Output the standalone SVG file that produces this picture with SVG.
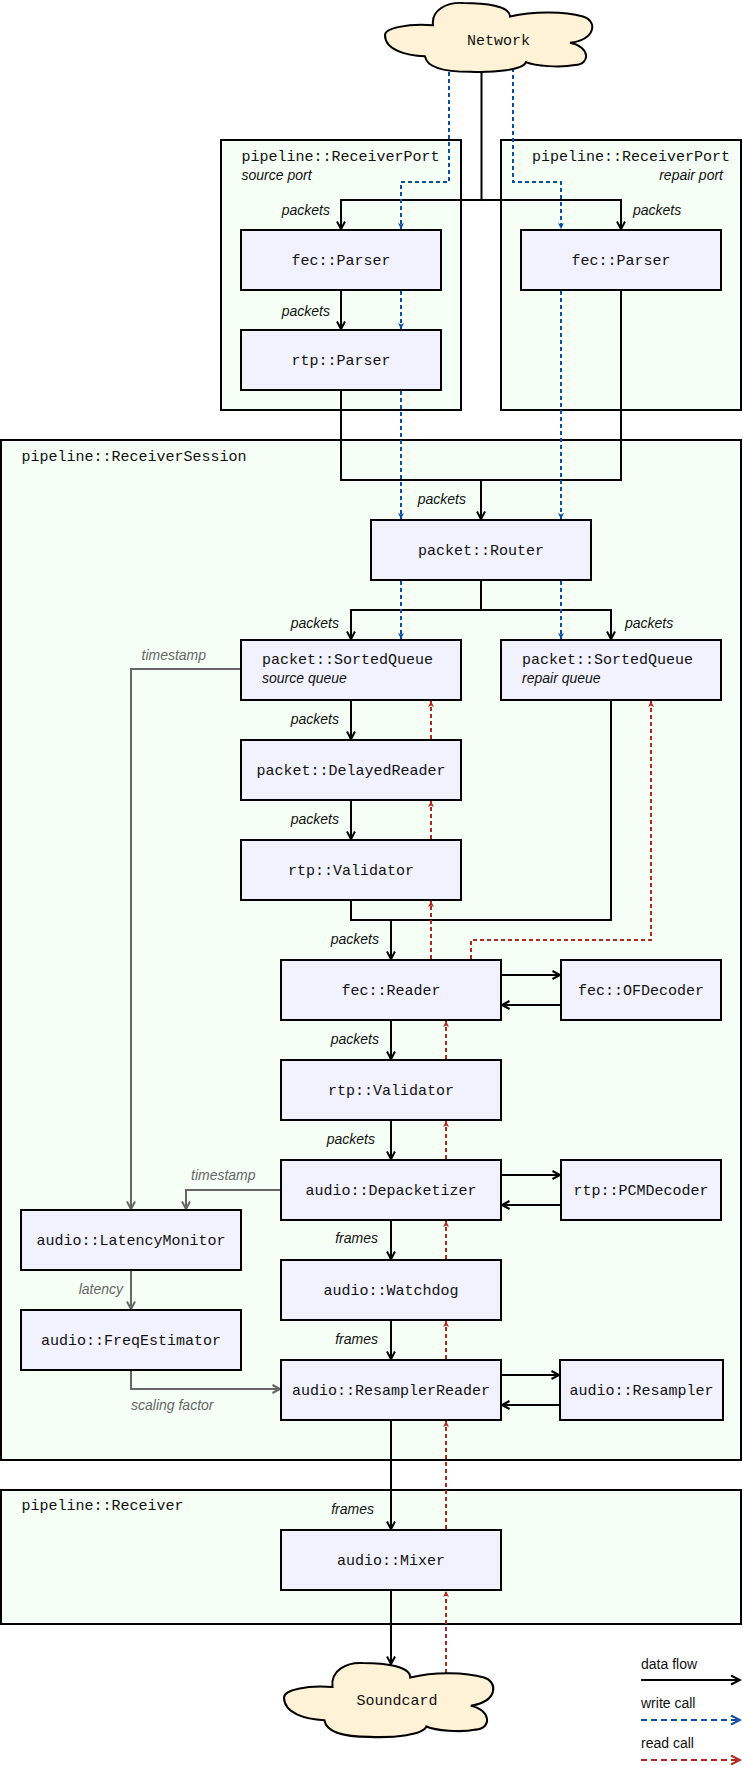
<svg xmlns="http://www.w3.org/2000/svg" xmlns:xlink="http://www.w3.org/1999/xlink" width="743" height="1765" viewBox="0 0 743 1765">
  <style>
    .cont { fill: #f5fff5; stroke: #000; stroke-width: 2; }
    .box { fill: #f2f2ff; stroke: #000; stroke-width: 2; }
    .cloud { fill: #fff2d6; stroke: #000; stroke-width: 2; }
    .mono { font-family: "Liberation Mono", "DejaVu Sans Mono", monospace; font-size: 15px; fill: #111; }
    .lbl { font-family: "Liberation Sans", Arial, sans-serif; font-size: 14px; font-style: italic; fill: #111; }
    .glbl { font-family: "Liberation Sans", Arial, sans-serif; font-size: 14px; font-style: italic; fill: #666; }
    .leg { font-family: "Liberation Sans", Arial, sans-serif; font-size: 14px; fill: #111; }
    .mid { text-anchor: middle; }
    .end { text-anchor: end; }
    .flow { fill: none; stroke: #000; stroke-width: 2; }
    .ctl { fill: none; stroke: #666; stroke-width: 2; }
    .write { fill: none; stroke: #0b4ea2; stroke-width: 2; stroke-dasharray: 4 3; }
    .read { fill: none; stroke: #b3261e; stroke-width: 2; stroke-dasharray: 4 3; }
    .legw { fill: none; stroke: #0b4ea2; stroke-width: 2; stroke-dasharray: 6 4; }
    .legr { fill: none; stroke: #b3261e; stroke-width: 2; stroke-dasharray: 6 4; }
  </style>
  <defs>
    <marker id="aFlow" markerUnits="userSpaceOnUse" markerWidth="12" markerHeight="12" refX="8" refY="5" orient="auto">
      <path d="M0.5,1 L8,5 L0.5,9" fill="none" stroke="#000" stroke-width="2"/>
    </marker>
    <marker id="aCtl" markerUnits="userSpaceOnUse" markerWidth="12" markerHeight="12" refX="8" refY="5" orient="auto">
      <path d="M0.5,1 L8,5 L0.5,9" fill="none" stroke="#666" stroke-width="2"/>
    </marker>
    <marker id="aWrite" markerUnits="userSpaceOnUse" markerWidth="8" markerHeight="8" refX="6" refY="3" orient="auto">
      <path d="M0,0 L6,3 L0,6 L1.5,3 Z" fill="#0b4ea2"/>
    </marker>
    <marker id="aRead" markerUnits="userSpaceOnUse" markerWidth="8" markerHeight="8" refX="6" refY="3" orient="auto">
      <path d="M0,0 L6,3 L0,6 L1.5,3 Z" fill="#b3261e"/>
    </marker>
    <marker id="lFlow" markerUnits="userSpaceOnUse" markerWidth="12" markerHeight="12" refX="10" refY="5.5" orient="auto">
      <path d="M1,1 L10,5.5 L1,10" fill="none" stroke="#000" stroke-width="2"/>
    </marker>
    <marker id="lWrite" markerUnits="userSpaceOnUse" markerWidth="12" markerHeight="12" refX="10" refY="5.5" orient="auto">
      <path d="M1,1 L10,5.5 L1,10" fill="none" stroke="#0b4ea2" stroke-width="2"/>
    </marker>
    <marker id="lRead" markerUnits="userSpaceOnUse" markerWidth="12" markerHeight="12" refX="10" refY="5.5" orient="auto">
      <path d="M1,1 L10,5.5 L1,10" fill="none" stroke="#b3261e" stroke-width="2"/>
    </marker>
    <!-- cloud outline in a 208x72 frame -->
    <path id="cloudShape" d="M0,34 C0,27 22,22 48,24 C46,8 62,0 78,1 C100,1 125,4 125,15 C150,9 180,10 198,15 C212,19 212,38 185,42 C205,46 206,64 190,65 C175,68 150,66 141,62 C138,70 110,73 85,72 C60,72 42,68 40,56 C22,55 0,50 0,34 Z"/>
  </defs>

  <!-- containers -->
  <g id="port-source">
    <rect class="cont" x="221" y="140" width="240" height="270"/>
    <text class="mono" x="241.5" y="160.5">pipeline::ReceiverPort</text>
    <text class="lbl" x="241.5" y="180">source port</text>
  </g>
  <g id="port-repair">
    <rect class="cont" x="501" y="140" width="240" height="270"/>
    <text class="mono end" x="730" y="160.5">pipeline::ReceiverPort</text>
    <text class="lbl end" x="723" y="180">repair port</text>
  </g>
  <g id="receiver-session">
    <rect class="cont" x="1" y="440" width="740" height="1020"/>
    <text class="mono" x="21.5" y="460.5">pipeline::ReceiverSession</text>
  </g>
  <g id="receiver">
    <rect class="cont" x="1" y="1490" width="740" height="134"/>
    <text class="mono" x="21.5" y="1510">pipeline::Receiver</text>
  </g>

  <!-- connectors -->
  <g id="connectors">
    <!-- data flow -->
    <path class="flow" marker-end="url(#aFlow)" d="M481.5,70 V200 H341 V229"/>
    <path class="flow" marker-end="url(#aFlow)" d="M481.5,200 H621 V229"/>
    <path class="flow" marker-end="url(#aFlow)" d="M341,290 V329"/>
    <path class="flow" d="M341,390 V480 H621 V290"/>
    <path class="flow" marker-end="url(#aFlow)" d="M481,480 V519"/>
    <path class="flow" marker-end="url(#aFlow)" d="M481,580 V610 H351 V639"/>
    <path class="flow" marker-end="url(#aFlow)" d="M481,610 H611 V639"/>
    <path class="flow" marker-end="url(#aFlow)" d="M351,700 V739"/>
    <path class="flow" marker-end="url(#aFlow)" d="M351,800 V839"/>
    <path class="flow" d="M351,900 V920 H611 V700"/>
    <path class="flow" marker-end="url(#aFlow)" d="M391,920 V959"/>
    <path class="flow" marker-end="url(#aFlow)" d="M501,975 H560"/>
    <path class="flow" marker-end="url(#aFlow)" d="M561,1005 H502"/>
    <path class="flow" marker-end="url(#aFlow)" d="M391,1020 V1059"/>
    <path class="flow" marker-end="url(#aFlow)" d="M391,1120 V1159"/>
    <path class="flow" marker-end="url(#aFlow)" d="M501,1175 H560"/>
    <path class="flow" marker-end="url(#aFlow)" d="M561,1205 H502"/>
    <path class="flow" marker-end="url(#aFlow)" d="M391,1220 V1259"/>
    <path class="flow" marker-end="url(#aFlow)" d="M391,1320 V1359"/>
    <path class="flow" marker-end="url(#aFlow)" d="M501,1375 H559"/>
    <path class="flow" marker-end="url(#aFlow)" d="M560,1405 H502"/>
    <path class="flow" marker-end="url(#aFlow)" d="M391,1420 V1529"/>
    <path class="flow" marker-end="url(#aFlow)" d="M391,1590 V1664"/>

    <!-- write calls -->
    <path class="write" marker-end="url(#aWrite)" d="M449,72 V182 H401 V229"/>
    <path class="write" marker-end="url(#aWrite)" d="M513,68 V182 H561 V229"/>
    <path class="write" marker-end="url(#aWrite)" d="M401,291 V329"/>
    <path class="write" marker-end="url(#aWrite)" d="M401,391 V519"/>
    <path class="write" marker-end="url(#aWrite)" d="M561,291 V519"/>
    <path class="write" marker-end="url(#aWrite)" d="M401,581 V639"/>
    <path class="write" marker-end="url(#aWrite)" d="M561,581 V639"/>

    <!-- read calls -->
    <path class="read" marker-end="url(#aRead)" d="M431,739 V701"/>
    <path class="read" marker-end="url(#aRead)" d="M431,839 V801"/>
    <path class="read" marker-end="url(#aRead)" d="M431,959 V901"/>
    <path class="read" marker-end="url(#aRead)" d="M471,959 V940 H651 V701"/>
    <path class="read" marker-end="url(#aRead)" d="M446,1059 V1021"/>
    <path class="read" marker-end="url(#aRead)" d="M446,1159 V1121"/>
    <path class="read" marker-end="url(#aRead)" d="M446,1259 V1221"/>
    <path class="read" marker-end="url(#aRead)" d="M446,1359 V1321"/>
    <path class="read" marker-end="url(#aRead)" d="M446,1529 V1421"/>
    <path class="read" marker-end="url(#aRead)" d="M446,1680 V1591"/>

    <!-- control values -->
    <path class="ctl" marker-end="url(#aCtl)" d="M241,669 H131 V1209"/>
    <path class="ctl" marker-end="url(#aCtl)" d="M281,1190 H186 V1209"/>
    <path class="ctl" marker-end="url(#aCtl)" d="M131,1270 V1309"/>
    <path class="ctl" marker-end="url(#aCtl)" d="M131,1370 V1389 H280"/>

    <!-- connector labels -->
    <text class="lbl end" x="330" y="215">packets</text>
    <text class="lbl" x="633" y="215">packets</text>
    <text class="lbl end" x="330" y="316">packets</text>
    <text class="lbl end" x="466" y="504">packets</text>
    <text class="lbl end" x="339" y="628">packets</text>
    <text class="lbl" x="625" y="628">packets</text>
    <text class="lbl end" x="339" y="724">packets</text>
    <text class="lbl end" x="339" y="824">packets</text>
    <text class="lbl end" x="379" y="944">packets</text>
    <text class="lbl end" x="379" y="1044">packets</text>
    <text class="lbl end" x="375" y="1144">packets</text>
    <text class="lbl end" x="378" y="1243">frames</text>
    <text class="lbl end" x="378" y="1344">frames</text>
    <text class="lbl end" x="374" y="1514">frames</text>
    <text class="glbl" x="141.5" y="660">timestamp</text>
    <text class="glbl" x="191" y="1180">timestamp</text>
    <text class="glbl end" x="123" y="1294">latency</text>
    <text class="glbl" x="131" y="1410">scaling factor</text>
  </g>

  <!-- nodes -->
  <g id="network">
    <use xlink:href="#cloudShape" class="cloud" transform="translate(385,2) scale(1,0.97)"/>
    <text class="mono mid" x="498.5" y="45">Network</text>
  </g>
  <g id="fec-parser-source">
    <rect class="box" x="241" y="230" width="200" height="60"/>
    <text class="mono mid" x="341" y="265">fec::Parser</text>
  </g>
  <g id="rtp-parser">
    <rect class="box" x="241" y="330" width="200" height="60"/>
    <text class="mono mid" x="341" y="365">rtp::Parser</text>
  </g>
  <g id="fec-parser-repair">
    <rect class="box" x="521" y="230" width="200" height="60"/>
    <text class="mono mid" x="621" y="265">fec::Parser</text>
  </g>
  <g id="router">
    <rect class="box" x="371" y="520" width="220" height="60"/>
    <text class="mono mid" x="481" y="555">packet::Router</text>
  </g>
  <g id="sorted-queue-source">
    <rect class="box" x="241" y="640" width="220" height="60"/>
    <text class="mono" x="262" y="664">packet::SortedQueue</text>
    <text class="lbl" x="262" y="683">source queue</text>
  </g>
  <g id="sorted-queue-repair">
    <rect class="box" x="501" y="640" width="220" height="60"/>
    <text class="mono" x="522" y="664">packet::SortedQueue</text>
    <text class="lbl" x="522" y="683">repair queue</text>
  </g>
  <g id="delayed-reader">
    <rect class="box" x="241" y="740" width="220" height="60"/>
    <text class="mono mid" x="351" y="775">packet::DelayedReader</text>
  </g>
  <g id="rtp-validator-1">
    <rect class="box" x="241" y="840" width="220" height="60"/>
    <text class="mono mid" x="351" y="875">rtp::Validator</text>
  </g>
  <g id="fec-reader">
    <rect class="box" x="281" y="960" width="220" height="60"/>
    <text class="mono mid" x="391" y="995">fec::Reader</text>
  </g>
  <g id="fec-of-decoder">
    <rect class="box" x="561" y="960" width="160" height="60"/>
    <text class="mono mid" x="641" y="995">fec::OFDecoder</text>
  </g>
  <g id="rtp-validator-2">
    <rect class="box" x="281" y="1060" width="220" height="60"/>
    <text class="mono mid" x="391" y="1095">rtp::Validator</text>
  </g>
  <g id="depacketizer">
    <rect class="box" x="281" y="1160" width="220" height="60"/>
    <text class="mono mid" x="391" y="1195">audio::Depacketizer</text>
  </g>
  <g id="pcm-decoder">
    <rect class="box" x="561" y="1160" width="160" height="60"/>
    <text class="mono mid" x="641" y="1195">rtp::PCMDecoder</text>
  </g>
  <g id="latency-monitor">
    <rect class="box" x="21" y="1210" width="220" height="60"/>
    <text class="mono mid" x="131" y="1245">audio::LatencyMonitor</text>
  </g>
  <g id="watchdog">
    <rect class="box" x="281" y="1260" width="220" height="60"/>
    <text class="mono mid" x="391" y="1295">audio::Watchdog</text>
  </g>
  <g id="freq-estimator">
    <rect class="box" x="21" y="1310" width="220" height="60"/>
    <text class="mono mid" x="131" y="1345">audio::FreqEstimator</text>
  </g>
  <g id="resampler-reader">
    <rect class="box" x="281" y="1360" width="220" height="60"/>
    <text class="mono mid" x="391" y="1395">audio::ResamplerReader</text>
  </g>
  <g id="resampler">
    <rect class="box" x="560" y="1360" width="163" height="60"/>
    <text class="mono mid" x="641.5" y="1395">audio::Resampler</text>
  </g>
  <g id="mixer">
    <rect class="box" x="281" y="1530" width="220" height="60"/>
    <text class="mono mid" x="391" y="1565">audio::Mixer</text>
  </g>
  <g id="soundcard">
    <use xlink:href="#cloudShape" class="cloud" transform="translate(284,1662) scale(1.01,1.04)"/>
    <text class="mono mid" x="397" y="1705">Soundcard</text>
  </g>

  <!-- legend -->
  <g id="legend">
    <text class="leg" x="641" y="1669">data flow</text>
    <path class="flow" marker-end="url(#lFlow)" d="M641,1680 H740"/>
    <text class="leg" x="641" y="1708">write call</text>
    <path class="legw" marker-end="url(#lWrite)" d="M641,1720 H740"/>
    <text class="leg" x="641" y="1748">read call</text>
    <path class="legr" marker-end="url(#lRead)" d="M641,1760 H740"/>
  </g>
</svg>
